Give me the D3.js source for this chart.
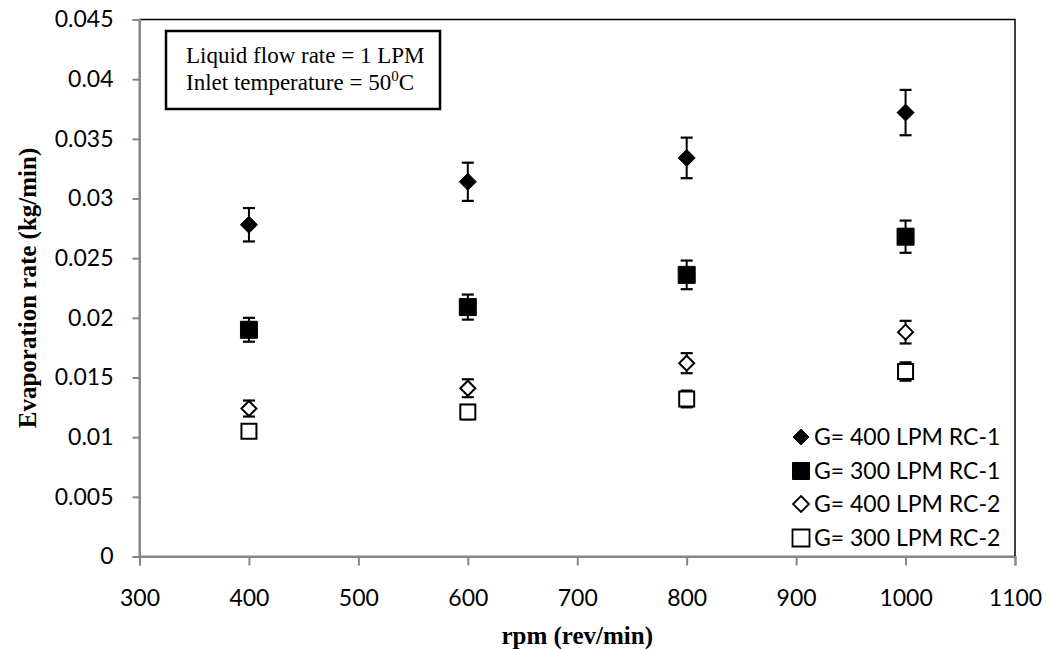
<!DOCTYPE html>
<html>
<head>
<meta charset="utf-8">
<script src="https://cdn.jsdelivr.net/npm/d3@7.9.0/dist/d3.min.js"></script>
<style>
  html, body { margin: 0; padding: 0; background: #fff; }
  svg { display: block; }
  .tick text { font-family: Lato, "Open Sans", sans-serif; font-size: 23px; fill: #000; }
  .legend text { font-family: Lato, "Open Sans", sans-serif; font-size: 23px; fill: #000; }
  .axis-title { font-family: "Liberation Serif", "Times New Roman", serif; font-size: 25px; font-weight: bold; }
  .note text { font-family: "Liberation Serif", "Times New Roman", serif; font-size: 23px; }
</style>
</head>
<body>
<svg id="chart" width="1047" height="649"></svg>
<script>
// rpm values (x)
const rpm = [400, 600, 800, 1000];

// evaporation rate (kg/min) and error bars per series
const g400rc1 = [0.0278, 0.0314, 0.0334, 0.0372];
const g400rc1Err = [0.0014, 0.0016, 0.0017, 0.0019];
const g300rc1 = [0.0190, 0.0209, 0.0236, 0.0268];
const g300rc1Err = [0.0010, 0.00105, 0.0012, 0.00135];
const g400rc2 = [0.0124, 0.0141, 0.0162, 0.0188];
const g400rc2Err = [0.00067, 0.00075, 0.00084, 0.00095];
const g300rc2 = [0.0105, 0.0121, 0.0132, 0.0155];
const g300rc2Err = [0.0005, 0.0006, 0.0007, 0.00077];

const xTicks = [300, 400, 500, 600, 700, 800, 900, 1000, 1100];
const yTicks = [0, 0.005, 0.01, 0.015, 0.02, 0.025, 0.03, 0.035, 0.04, 0.045];

const seriesNames = ['G= 400 LPM RC-1', 'G= 300 LPM RC-1', 'G= 400 LPM RC-2', 'G= 300 LPM RC-2'];
const noteLines = ['Liquid flow rate = 1 LPM', 'Inlet temperature = 50'];

const series = [
  { name: seriesNames[0], values: g400rc1, err: g400rc1Err, shape: 'diamond', filled: true },
  { name: seriesNames[1], values: g300rc1, err: g300rc1Err, shape: 'square', filled: true },
  { name: seriesNames[2], values: g400rc2, err: g400rc2Err, shape: 'diamond', filled: false },
  { name: seriesNames[3], values: g300rc2, err: g300rc2Err, shape: 'square', filled: false },
];

const plot = { left: 139.5, right: 1015, top: 19.5, bottom: 556.5 };

const x = d3.scaleLinear().domain([300, 1100]).range([plot.left, plot.right]);
const y = d3.scaleLinear().domain([0, 0.045]).range([plot.bottom, plot.top]);

const svg = d3.select('#chart');

// plot area border (top/right stay black, axes drawn grey on top)
svg.append('rect')
  .attr('x', plot.left).attr('y', plot.top)
  .attr('width', plot.right - plot.left).attr('height', plot.bottom - plot.top)
  .attr('fill', 'none').attr('stroke', '#000').attr('stroke-width', 1.5);

const xAxis = svg.append('g')
  .attr('transform', `translate(0,${plot.bottom})`)
  .call(d3.axisBottom(x).tickValues(xTicks).tickSize(9).tickPadding(24).tickFormat(d3.format('d')));

const yAxis = svg.append('g')
  .attr('transform', `translate(${plot.left},0)`)
  .call(d3.axisLeft(y).tickValues(yTicks).tickSize(7).tickPadding(19).tickFormat(d => d === 0 ? '0' : String(+d.toFixed(3))));

[xAxis, yAxis].forEach(g => {
  g.select('.domain').attr('stroke', '#868686').attr('stroke-width', 2);
  g.selectAll('.tick line').attr('stroke', '#868686').attr('stroke-width', 2);
});

// axis titles
svg.append('text')
  .attr('class', 'axis-title')
  .attr('x', (plot.left + plot.right) / 2).attr('y', 644)
  .attr('text-anchor', 'middle')
  .text('rpm (rev/min)');

svg.append('text')
  .attr('class', 'axis-title')
  .attr('transform', `translate(36,${(plot.top + plot.bottom) / 2}) rotate(-90)`)
  .attr('text-anchor', 'middle')
  .text('Evaporation rate (kg/min)');

const markerSize = 17;
function markerPath(shape, s) {
  const h = s / 2;
  if (shape === 'diamond') return `M0,${-h}L${h},0L0,${h}L${-h},0Z`;
  return `M${-h},${-h}H${h}V${h}H${-h}Z`;
}

// error bars then markers
series.forEach(s => {
  const pts = rpm.map((r, i) => ({ r, v: s.values[i], e: s.err[i] }));
  const g = svg.append('g');

  g.selectAll('line.bar')
    .data(pts)
    .join('line')
    .attr('x1', d => x(d.r)).attr('x2', d => x(d.r))
    .attr('y1', d => y(d.v - d.e)).attr('y2', d => y(d.v + d.e))
    .attr('stroke', '#000').attr('stroke-width', 2);

  ['lo', 'hi'].forEach(k => {
    g.selectAll('line.cap-' + k)
      .data(pts)
      .join('line')
      .attr('x1', d => x(d.r) - 6).attr('x2', d => x(d.r) + 6)
      .attr('y1', d => y(k === 'lo' ? d.v - d.e : d.v + d.e))
      .attr('y2', d => y(k === 'lo' ? d.v - d.e : d.v + d.e))
      .attr('stroke', '#000').attr('stroke-width', 2.2);
  });

  const size = s.filled ? markerSize : markerSize - 2;
  g.selectAll('path.mark')
    .data(pts)
    .join('path')
    .attr('transform', d => `translate(${x(d.r)},${y(d.v)})`)
    .attr('d', markerPath(s.shape, size))
    .attr('fill', s.filled ? '#000' : '#fff')
    .attr('stroke', '#000')
    .attr('stroke-width', s.filled ? 1 : 2);
});

// legend
const legend = svg.append('g').attr('class', 'legend');
const legendRows = [437, 471, 504, 538];
series.forEach((s, i) => {
  const row = legend.append('g').attr('transform', `translate(801,${legendRows[i]})`);
  row.append('path')
    .attr('d', markerPath(s.shape, s.shape === 'square' ? 17 : 16))
    .attr('fill', s.filled ? '#000' : '#fff')
    .attr('stroke', '#000')
    .attr('stroke-width', s.filled ? 1 : 1.8);
  row.append('text')
    .attr('x', 13).attr('dy', '0.36em')
    .text(s.name);
});

// note box
const note = svg.append('g').attr('class', 'note');
note.append('rect')
  .attr('x', 166).attr('y', 31).attr('width', 274).attr('height', 78)
  .attr('fill', '#fff').attr('stroke', '#000').attr('stroke-width', 2.5);
note.append('text').attr('x', 186).attr('y', 63).text(noteLines[0]);
const t2 = note.append('text').attr('x', 186).attr('y', 90).text(noteLines[1]);
t2.append('tspan').attr('dy', -9).attr('font-size', 15).text('0');
t2.append('tspan').attr('dy', 9).text('C');
</script>
</body>
</html>
